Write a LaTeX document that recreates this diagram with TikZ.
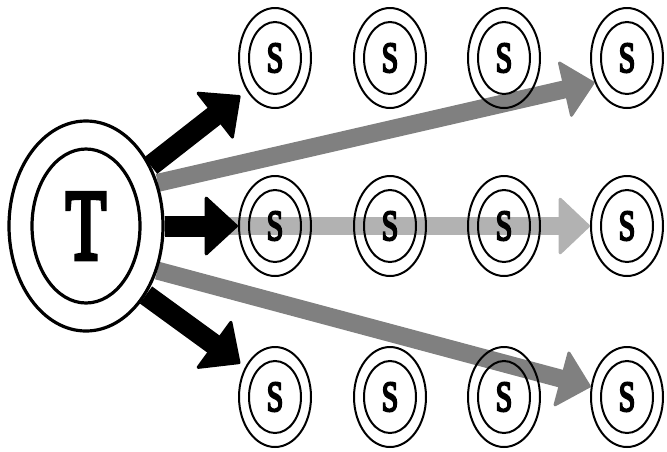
\documentclass[tikz,border=0pt]{standalone}
\usepackage{fontspec}
\setmainfont{Liberation Serif}
\newfontfamily\heavy{Liberation Serif}[FakeBold=5]
\usetikzlibrary{shapes.geometric,arrows.meta}
\pgfdeclarelayer{bg}
\pgfsetlayers{bg,main}
\definecolor{grayA}{RGB}{128,128,128}
\definecolor{grayB}{RGB}{178,178,178}
\begin{document}
\begin{tikzpicture}[x=1pt,y=-1pt,
  snode/.style={ellipse,draw,line width=2pt,minimum width=72pt,minimum height=100pt,inner sep=0pt,
    font=\heavy\fontsize{43}{43}\selectfont},
  tnode/.style={ellipse,draw,line width=3.2pt,minimum width=154pt,minimum height=210pt,inner sep=0pt,
    font=\heavy\fontsize{100}{100}\selectfont},
  ring/.style={line width=2pt},
  tring/.style={line width=3.2pt},
  blk/.style={line width=21pt,draw=black,-{Triangle[width=62pt,length=34pt,line width=3pt,round]}},
  gryA/.style={line width=18pt,draw=grayA,-{Triangle[width=60pt,length=32pt,line width=3pt,round]}},
  gryB/.style={line width=18pt,draw=grayB,-{Triangle[width=60pt,length=32pt,line width=3pt,round]}},
]
\useasboundingbox (0,0) rectangle (667,451);
\node[tnode] (T) at (86,226) {\scalebox{0.66}[1]{T}};
\foreach \r/\y in {1/58,2/226,3/397}{
  \foreach \c/\x in {1/275,2/390,3/504,4/627}{
    \node[snode] (s\r\c) at (\x,\y) {\scalebox{0.7}[1]{S}};
    \draw[ring] (s\r\c.center) ellipse [x radius=26, y radius=36];
  }
}
\draw[tring] (T.center) ellipse [x radius=54, y radius=77];
\begin{pgfonlayer}{bg}
  \draw[gryA] (T.31) -- (s14.217);
  \draw[gryB] (T.east) -- (s24.west);
  \draw[gryA] (T.-32) -- (s34.164);
  \draw[blk,shorten >=8pt] (T.43) -- (s11.229);
  \draw[blk] (T.east) -- (s21.west);
  \draw[blk,shorten >=6pt] (T.-49) -- (s31.135);
\end{pgfonlayer}
\end{tikzpicture}
\end{document}
